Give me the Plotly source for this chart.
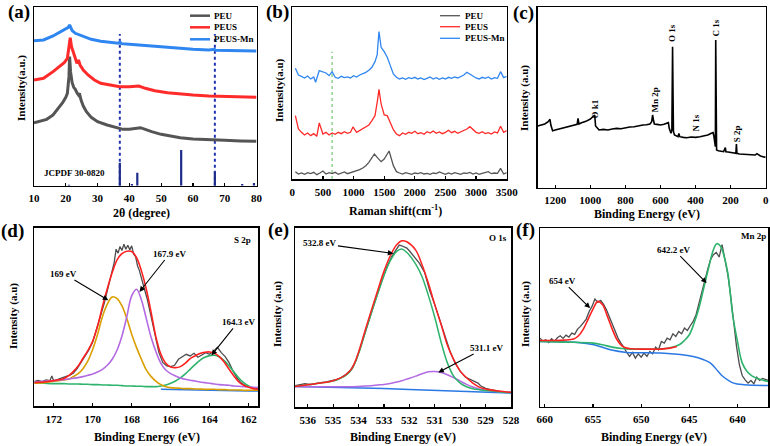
import plotly.graph_objects as go

SERIF = "Liberation Serif"
W, H = 770, 446

# ---------------- (a) XRD ----------------
xrd_peu_x = [10, 12, 14, 16, 18, 19, 20, 20.5, 21, 21.2, 21.5, 22, 22.5, 23, 23.5, 24, 24.3, 24.8, 25.5, 26.5, 28, 30, 33, 36, 38, 40, 42, 43.5, 45, 47, 50, 53, 56, 60, 65, 70, 75, 80]
xrd_peu_y = [189, 193, 199, 212, 235, 249, 265, 277, 327, 387, 342, 309, 295, 289, 279, 272, 277, 257, 239, 222, 205, 192, 182, 174, 169, 169, 172, 174, 169, 162, 154, 149, 144, 140, 137, 136, 134, 133]
xrd_peus_x = [10, 13, 16, 18, 19.5, 20.5, 21, 21.4, 21.8, 22.3, 23, 23.5, 24, 24.5, 25.5, 27, 29, 31, 34, 37, 40, 43, 45, 48, 52, 56, 60, 65, 70, 75, 80]
xrd_peus_y = [317, 322, 342, 357, 369, 382, 427, 444, 417, 399, 382, 367, 377, 362, 347, 332, 317, 307, 301, 297, 297, 299, 292, 285, 279, 275, 272, 269, 267, 266, 265]
xrd_mn_x = [10, 13, 16, 18, 20, 20.8, 21.2, 21.6, 22, 23, 25, 28, 31, 34, 36.5, 37, 37.5, 40, 45, 50, 55, 60, 65, 66.8, 67.2, 70, 75, 80]
xrd_mn_y = [435, 437, 449, 459, 469, 475, 482, 470, 465, 457, 449, 439, 433, 429, 427, 431, 426, 424, 420, 416, 412, 409, 407, 409, 406, 406, 405, 404]
jcpdf_pos = [21.0, 37.0, 40.8, 42.5, 56.3, 66.9, 75.5, 79.2]
jcpdf_int = [3, 69, 5, 39, 107, 42, 5, 8]
xrd_marks = [37.0, 66.9]
xrd_ticks = [10, 20, 30, 40, 50, 60, 70, 80]

# ---------------- (b) Raman ----------------
ram_peu_x = [50, 100, 150, 200, 250, 300, 350, 400, 450, 500, 550, 600, 650, 700, 750, 800, 850, 900, 950, 1000, 1050, 1100, 1150, 1200, 1250, 1300, 1340, 1400, 1450, 1500, 1550, 1580, 1650, 1700, 1750, 1800, 1850, 1900, 1950, 2000, 2050, 2100, 2150, 2200, 2250, 2300, 2350, 2400, 2450, 2500, 2550, 2600, 2650, 2700, 2750, 2800, 2850, 2900, 2950, 3000, 3050, 3100, 3150, 3200, 3250, 3300, 3350, 3400, 3450, 3500]
ram_peu_y = [22, 15, 18, 14, 19, 16, 20, 13, 18, 24, 15, 19, 16, 20, 14, 18, 21, 16, 19, 20, 24, 28, 33, 40, 50, 64, 75, 62, 52, 60, 76, 84, 40, 22, 18, 15, 19, 16, 14, 18, 16, 19, 15, 17, 14, 18, 16, 21, 17, 14, 18, 15, 19, 16, 14, 18, 17, 20, 15, 18, 14, 17, 20, 22, 16, 18, 17, 32, 15, 19]
ram_peus_x = [50, 100, 150, 200, 250, 300, 350, 400, 440, 500, 550, 600, 650, 700, 750, 800, 850, 900, 950, 990, 1050, 1100, 1150, 1200, 1250, 1300, 1350, 1390, 1415, 1450, 1500, 1550, 1600, 1650, 1700, 1750, 1800, 1850, 1900, 1950, 2000, 2050, 2100, 2150, 2200, 2250, 2300, 2350, 2400, 2450, 2500, 2550, 2600, 2650, 2700, 2750, 2800, 2850, 2900, 2950, 3000, 3050, 3100, 3150, 3200, 3250, 3300, 3350, 3400, 3450, 3500]
ram_peus_y = [190, 150, 140, 132, 138, 130, 136, 128, 168, 135, 140, 132, 138, 134, 140, 136, 142, 137, 140, 156, 140, 145, 150, 155, 162, 175, 190, 235, 269, 225, 192, 190, 170, 148, 135, 130, 138, 134, 140, 137, 143, 136, 139, 134, 142, 138, 144, 137, 141, 136, 140, 146, 139, 143, 137, 141, 145, 150, 157, 148, 140, 137, 142, 136, 139, 135, 141, 138, 158, 140, 145]
ram_mn_x = [50, 100, 150, 200, 250, 300, 350, 380, 440, 500, 550, 600, 650, 700, 750, 800, 850, 900, 950, 1000, 1050, 1100, 1150, 1200, 1250, 1300, 1350, 1385, 1415, 1450, 1500, 1550, 1600, 1650, 1700, 1750, 1800, 1850, 1900, 1950, 2000, 2050, 2100, 2150, 2200, 2250, 2300, 2350, 2400, 2450, 2500, 2550, 2600, 2650, 2700, 2750, 2800, 2850, 2900, 2950, 3000, 3050, 3100, 3150, 3200, 3250, 3300, 3350, 3400, 3450, 3500]
ram_mn_y = [332, 312, 308, 303, 309, 300, 306, 290, 325, 320, 318, 310, 322, 305, 302, 308, 304, 306, 303, 310, 306, 312, 315, 320, 326, 335, 352, 372, 442, 395, 382, 365, 340, 315, 305, 300, 303, 299, 304, 301, 305, 300, 303, 298, 302, 306, 300, 304, 299, 303, 300, 305, 302, 306, 303, 308, 312, 320, 314, 307, 303, 300, 305, 302, 306, 300, 304, 302, 322, 304, 308]
raman_mark = 650
raman_ticks = [0, 500, 1000, 1500, 2000, 2500, 3000, 3500]

# ---------------- (c) XPS survey ----------------
surv_x = [1300, 1280, 1260, 1240, 1230, 1225, 1215, 1200, 1175, 1150, 1125, 1100, 1075, 1070, 1065, 1050, 1025, 1000, 990, 980, 975, 970, 960, 950, 925, 900, 875, 850, 825, 800, 775, 750, 725, 700, 680, 660, 650, 645, 640, 635, 620, 600, 580, 560, 555, 550, 540, 535, 531, 528, 526, 520, 510, 500, 495, 490, 470, 450, 425, 400, 375, 350, 330, 310, 300, 295, 290, 287, 285, 283, 280, 270, 255, 240, 230, 227, 215, 200, 185, 170, 167, 164, 150, 125, 100, 80, 60, 50, 40, 30, 15, 0]
surv_y = [185, 188, 191, 198, 205, 188, 171, 173, 176, 179, 182, 185, 190, 208, 191, 195, 199, 206, 211, 215, 218, 185, 178, 173, 175, 173, 176, 178, 177, 180, 182, 183, 186, 188, 189, 191, 198, 218, 203, 191, 190, 188, 190, 193, 195, 178, 163, 173, 423, 263, 168, 158, 155, 153, 163, 153, 151, 150, 152, 151, 153, 155, 158, 163, 165, 153, 133, 123, 443, 143, 113, 111, 110, 108, 120, 108, 107, 105, 104, 103, 131, 103, 101, 100, 100, 99, 98, 102, 97, 95, 93, 91]
surv_labels = ["O k1", "Mn 2p", "O 1s", "N 1s", "C 1s", "S 2p"]
surv_label_x = [971, 629, 530, 396, 282, 162]
surv_label_y = [236, 263, 463, 193, 478, 161]
surv_ticks = [0, 200, 400, 600, 800, 1000, 1200]

# ---------------- (d) S 2p ----------------
s_data_x = [173.0, 172.8, 172.6, 172.4, 172.2, 172.1, 172.0, 171.8, 171.6, 171.4, 171.2, 171.0, 170.8, 170.6, 170.4, 170.2, 170.0, 169.8, 169.6, 169.4, 169.2, 169.0, 168.9, 168.8, 168.7, 168.6, 168.5, 168.4, 168.3, 168.2, 168.1, 168.0, 167.9, 167.8, 167.7, 167.6, 167.5, 167.4, 167.2, 167.0, 166.8, 166.6, 166.4, 166.2, 166.0, 165.8, 165.6, 165.4, 165.2, 165.0, 164.8, 164.6, 164.4, 164.2, 164.0, 163.8, 163.6, 163.4, 163.2, 163.0, 162.8, 162.6, 162.4, 162.2, 162.0, 161.8, 161.6, 161.5]
s_data_y = [74, 77, 73, 78, 76, 90, 75, 80, 84, 88, 92, 98, 112, 130, 150, 168, 192, 228, 270, 310, 360, 405, 430, 470, 458, 478, 466, 485, 470, 482, 468, 480, 455, 448, 420, 405, 380, 362, 320, 268, 210, 160, 130, 120, 118, 122, 140, 148, 155, 150, 158, 146, 152, 160, 155, 164, 176, 160, 148, 130, 105, 85, 70, 62, 58, 54, 52, 52]
s_fit_x = [173, 172.5, 172, 171.5, 171.25, 171, 170.75, 170.5, 170.25, 170, 169.75, 169.5, 169.25, 169, 168.75, 168.5, 168.25, 168, 167.75, 167.5, 167.25, 167, 166.75, 166.5, 166.25, 166, 165.75, 165.5, 165.25, 165, 164.75, 164.5, 164.25, 164, 163.75, 163.5, 163.25, 163, 162.75, 162.5, 162.25, 162, 161.75, 161.5]
s_fit_y = [70, 72, 76, 82, 90, 103, 120, 143, 166, 195, 240, 298, 352, 400, 438, 457, 464, 463, 445, 405, 350, 280, 205, 155, 128, 117, 115, 118, 128, 142, 150, 157, 161, 162, 158, 148, 132, 110, 90, 72, 62, 56, 52, 50]
s_169_y = [68, 70, 74, 78, 80, 88, 97, 112, 135, 170, 215, 268, 305, 327, 322, 300, 262, 215, 175, 140, 108, 88, 74, 64, 58, 55, 54, 53, 52, 52, 51, 51, 50, 50, 50, 49, 49, 48, 48, 48, 47, 47, 47, 47]
s_1679_y = [72, 74, 76, 79, 81, 83, 85, 88, 92, 96, 102, 110, 122, 140, 168, 210, 268, 330, 350, 318, 262, 205, 162, 128, 108, 97, 90, 84, 80, 77, 75, 72, 70, 68, 66, 64, 63, 62, 60, 59, 58, 57, 56, 55]
s_1643_y = [69, 68, 67, 67, 66, 66, 66, 65, 65, 64, 64, 63, 63, 62, 62, 61, 60, 60, 59, 59, 58, 58, 58, 60, 63, 68, 75, 84, 96, 110, 124, 137, 146, 151, 152, 147, 136, 120, 102, 84, 70, 60, 53, 50]
s_bg_x = [166.5, 165, 164, 163, 162, 161.5]
s_bg_y = [50, 48, 46, 45, 45, 45]
s_ticks = [162, 164, 166, 168, 170, 172]

# ---------------- (e) O 1s ----------------
o_data_x = [536.5, 536.3, 536.1, 535.9, 535.7, 535.5, 535.3, 535.1, 534.9, 534.7, 534.5, 534.3, 534.1, 533.9, 533.7, 533.5, 533.3, 533.1, 532.9, 532.7, 532.5, 532.4, 532.3, 532.2, 532.1, 532.0, 531.8, 531.7, 531.6, 531.4, 531.2, 531.0, 530.8, 530.6, 530.4, 530.2, 530.0, 529.8, 529.6, 529.4, 529.3, 529.2, 529.0, 528.8, 528.6, 528.4, 528.2, 528.0]
o_data_y = [64, 66, 70, 67, 71, 73, 75, 78, 82, 88, 98, 112, 140, 185, 235, 285, 330, 375, 418, 452, 478, 487, 485, 482, 478, 470, 452, 440, 432, 405, 350, 308, 262, 212, 168, 132, 108, 90, 82, 75, 72, 64, 56, 52, 48, 46, 44, 44]
o_fit_x = [536.5, 536, 535.5, 535, 534.75, 534.5, 534.25, 534, 533.75, 533.5, 533.25, 533, 532.75, 532.5, 532.3, 532.1, 531.75, 531.5, 531.25, 531, 530.75, 530.5, 530.25, 530, 529.75, 529.5, 529.25, 529, 528.5, 528]
o_fit_y = [62, 67, 72, 79, 86, 97, 118, 165, 228, 290, 350, 408, 455, 488, 500, 497, 472, 428, 372, 308, 248, 185, 142, 108, 88, 72, 60, 54, 48, 44]
o_5328_y = [62, 67, 72, 78, 85, 95, 115, 160, 222, 282, 340, 395, 440, 468, 475, 465, 430, 392, 335, 270, 195, 132, 92, 72, 61, 55, 52, 50, 46, 43]
o_5311_y = [62, 61, 61, 61, 61, 61, 61, 62, 63, 64, 66, 68, 71, 75, 79, 84, 93, 100, 106, 107, 104, 97, 88, 78, 68, 60, 54, 50, 46, 44]
o_bg_x = [536.5, 535, 534, 533, 532, 531, 530, 529, 528]
o_bg_y = [62, 60, 58, 56, 53, 50, 47, 44, 42]
o_ticks = [528, 529, 530, 531, 532, 533, 534, 535, 536]

# ---------------- (f) Mn 2p ----------------
mn_data_x = [660.5, 660.2, 659.9, 659.6, 659.3, 659.0, 658.7, 658.4, 658.1, 657.8, 657.5, 657.2, 656.9, 656.6, 656.3, 656.0, 655.7, 655.4, 655.1, 654.8, 654.5, 654.2, 653.9, 653.6, 653.3, 653.0, 652.7, 652.4, 652.1, 651.8, 651.5, 651.2, 650.9, 650.6, 650.3, 650.0, 649.7, 649.4, 649.1, 648.8, 648.5, 648.2, 647.9, 647.6, 647.3, 647.0, 646.7, 646.4, 646.1, 645.8, 645.5, 645.2, 644.9, 644.6, 644.3, 644.0, 643.7, 643.4, 643.1, 642.8, 642.5, 642.2, 641.9, 641.6, 641.3, 641.0, 640.7, 640.4, 640.1, 639.8, 639.5, 639.2, 638.9, 638.6, 638.3, 638.0, 637.7, 637.4, 637.1, 636.8]
mn_data_y = [205, 196, 200, 192, 203, 195, 206, 212, 204, 214, 208, 220, 216, 232, 240, 252, 262, 285, 300, 322, 312, 318, 306, 290, 268, 245, 222, 205, 190, 178, 162, 150, 162, 145, 158, 148, 160, 150, 165, 158, 178, 170, 195, 190, 205, 200, 218, 210, 225, 218, 235, 228, 242, 255, 275, 310, 345, 380, 410, 440, 455, 462, 448, 485, 440, 395, 330, 250, 180, 125, 92, 80, 70, 78, 68, 88, 78, 84, 80, 78]
mn_654_x = [660.5, 659, 658, 657, 656.5, 656, 655.5, 655, 654.5, 654, 653.5, 653, 652.5, 652, 651.5, 651, 650, 649, 648, 647, 646.3]
mn_654_y = [198, 198, 199, 202, 212, 232, 262, 292, 315, 305, 270, 232, 200, 182, 175, 173, 172, 172, 172, 175, 180]
mn_642_x = [660.5, 658, 655, 654, 653, 652, 651, 650, 648, 647, 646, 645.5, 645, 644.5, 644, 643.5, 643, 642.5, 642.15, 641.75, 641.5, 641, 640.75, 640.5, 640, 639.5, 639, 638.5, 638, 637.5, 636.8]
mn_642_y = [195, 193, 190, 185, 178, 174, 172, 172, 172, 176, 186, 198, 215, 250, 295, 355, 415, 470, 488, 480, 462, 400, 340, 275, 195, 130, 105, 92, 85, 80, 75]
mn_bg_x = [660.5, 656.6, 654.9, 653.2, 651.5, 648.0, 644.6, 643.5, 642.8, 642.0, 641.5, 640.4, 639.3, 636.8]
mn_bg_y = [195, 192, 185, 170, 162, 160, 150, 140, 130, 105, 90, 70, 65, 63]
mn_ticks = [640, 645, 650, 655, 660]

# ---------------- styles ----------------
C_PEU, C_PEUS, C_MN = "#555555", "#ff2a2a", "#2f86f0"
C_DATA = "#4d4d4d"
C_RED, C_ORANGE, C_PURPLE, C_GREEN, C_BLUE = "#ff2020", "#d9a000", "#b36ae2", "#2db36b", "#2a78e4"
C_STICK = "#1e2c8c"


def px_x(p):
    return p / W


def px_y(p):
    return 1 - p / H


fig = go.Figure()


def line(x, y, color, width, ax, name=None, dash=None, shape="linear"):
    fig.add_trace(go.Scatter(x=x, y=y, mode="lines", name=name, showlegend=False,
                             line=dict(color=color, width=width, dash=dash, shape=shape),
                             xaxis="x" + ax, yaxis="y" + ax, hoverinfo="skip"))


# (a)
for xm in xrd_marks:
    line([xm, xm], [0, 455], "#2233b0", 2, "", dash="dot")
sx, sy = [], []
for p, h in zip(jcpdf_pos, jcpdf_int):
    sx += [p, p, None]
    sy += [0, h, None]
line(sx, sy, C_STICK, 2.2, "")
line(xrd_peu_x, xrd_peu_y, C_PEU, 3, "", "PEU")
line(xrd_peus_x, xrd_peus_y, C_PEUS, 3, "", "PEUS")
line(xrd_mn_x, xrd_mn_y, C_MN, 3, "", "PEUS-Mn")

# (b)
line([raman_mark, raman_mark], [0, 382], "#8fd18f", 1.5, "2", dash="dot")
line(ram_peu_x, ram_peu_y, C_PEU, 1.3, "2", "PEU")
line(ram_peus_x, ram_peus_y, C_PEUS, 1.3, "2", "PEUS")
line(ram_mn_x, ram_mn_y, C_MN, 1.3, "2", "PEUS-Mn")

# (c)
line(surv_x, surv_y, "#000000", 1.6, "3")

# (d)
line(s_data_x, s_data_y, C_DATA, 1.3, "4")
line(s_bg_x, s_bg_y, C_BLUE, 1.5, "4")
line(s_fit_x, s_1643_y, C_GREEN, 1.6, "4", shape="spline")
line(s_fit_x, s_169_y, C_ORANGE, 1.6, "4", shape="spline")
line(s_fit_x, s_1679_y, C_PURPLE, 1.6, "4", shape="spline")
line(s_fit_x, s_fit_y, C_RED, 1.6, "4", shape="spline")

# (e)
line(o_data_x, o_data_y, C_DATA, 1.3, "5")
line(o_bg_x, o_bg_y, C_BLUE, 1.5, "5")
line(o_fit_x, o_5311_y, C_PURPLE, 1.5, "5", shape="spline")
line(o_fit_x, o_5328_y, C_GREEN, 1.5, "5", shape="spline")
line(o_fit_x, o_fit_y, C_RED, 1.5, "5", shape="spline")

# (f)
line(mn_data_x, mn_data_y, C_DATA, 1.3, "6")
line(mn_bg_x, mn_bg_y, C_BLUE, 1.5, "6", shape="spline")
line(mn_642_x, mn_642_y, C_GREEN, 1.6, "6", shape="spline")
line(mn_654_x, mn_654_y, C_RED, 1.6, "6", shape="spline")

tickfont = dict(family=SERIF, size=11, color="black", weight="bold")


def xax(dom, rng, ticks, anchor):
    return dict(domain=dom, range=rng, tickvals=ticks, showline=True, mirror=True, linecolor="black",
                linewidth=1.5, ticks="inside", ticklen=3, tickwidth=1.2, tickcolor="black",
                showgrid=False, zeroline=False, tickfont=tickfont, anchor=anchor, fixedrange=True,
                ticklabelstandoff=2, automargin=False)


def yax(dom, top, anchor):
    return dict(domain=dom, range=[0, top], showline=True, mirror=True, linecolor="black",
                linewidth=1.5, ticks="", showticklabels=False, showgrid=False, zeroline=False,
                anchor=anchor, fixedrange=True, automargin=False)


boxes = {
    "": ([34, 256.5], [7.3, 185.7], [10, 80], xrd_ticks, 535),
    "2": ([292.3, 506.7], [7.3, 179], [0, 3500], raman_ticks, 515),
    "3": ([537.7, 765.7], [7.3, 187.7], [1300, 0], surv_ticks, 541),
    "4": ([34.3, 258.3], [227.5, 406], [173, 161.5], s_ticks, 535),
    "5": ([295, 511], [227.5, 407], [536.5, 528], o_ticks, 540),
    "6": ([540, 768.3], [228, 406.5], [660.5, 636.8], mn_ticks, 535),
}
layout = {}
for k, (bx, by, xr, tv, top) in boxes.items():
    xd = [px_x(bx[0]), px_x(bx[1])]
    yd = [px_y(by[1]), px_y(by[0])]
    layout["xaxis" + k] = xax(xd, xr, tv, "y" + k)
    layout["yaxis" + k] = yax(yd, top, "x" + k)

fig.update_layout(width=W, height=H, margin=dict(l=0, r=0, t=0, b=0, pad=0), plot_bgcolor="white",
                  paper_bgcolor="white", showlegend=False, **layout)

ann = []
tfont = dict(family=SERIF, size=12, color="black", weight="bold")
yfont = dict(family=SERIF, size=11, color="black", weight="bold")
lfont = dict(family=SERIF, size=19, color="black", weight="bold")
sfont = dict(family=SERIF, size=9, color="black", weight="bold")


def pann(text, x, y, font, angle=0, xanchor="center"):
    ann.append(dict(text=text, x=px_x(x), y=px_y(y), xref="paper", yref="paper", showarrow=False,
                    font=font, textangle=angle, xanchor=xanchor, yanchor="middle"))


# panel labels
for t, x, y in [("(a)", 19, 12), ("(b)", 277, 12), ("(c)", 523, 13), ("(d)", 12, 231), ("(e)", 278, 230), ("(f)", 525, 230)]:
    pann(t, x, y, lfont)
# x titles
pann("2θ (degree)", 141, 213, tfont)
pann("Raman shift(cm<sup>-1</sup>)", 396, 211, tfont)
pann("Binding Energy (eV)", 647, 214, tfont)
pann("Binding Energy (eV)", 147, 437, tfont)
pann("Binding Energy (eV)", 403, 437, tfont)
pann("Binding Energy (eV)", 654, 437, tfont)
# y titles
pann("Intensity(a.u.)", 21, 88, yfont, -90)
pann("Intensity(a.u)", 279, 90, yfont, -90)
pann("Intensity (a.u)", 525, 98, yfont, -90)
pann("Intensity (a.u)", 13, 316, yfont, -90)
pann("Intensity (a.u)", 277, 314, yfont, -90)
pann("Intensity (a.u)", 525, 314, yfont, -90)

# manual legends for (a) and (b)
shapes = []
for names, colors, x0, x1, xt, ys, w in [
    (["PEU", "PEUS", "PEUS-Mn"], [C_PEU, C_PEUS, C_MN], 190, 210, 212, [15.7, 27.3, 39.3], 2.5),
    (["PEU", "PEUS", "PEUS-Mn"], [C_PEU, C_PEUS, C_MN], 440, 460, 463, [15.7, 26.7, 38.3], 1.3),
]:
    for n, c, yy in zip(names, colors, ys):
        shapes.append(dict(type="line", xref="paper", yref="paper", x0=px_x(x0), x1=px_x(x1),
                           y0=px_y(yy), y1=px_y(yy), line=dict(color=c, width=w)))
        pann(n, xt, yy, sfont, xanchor="left")

# in-plot text
ann.append(dict(text="JCPDF 30-0820", x=12.4, y=37, xref="x", yref="y", showarrow=False,
                font=sfont, xanchor="left"))
for t, x, y in zip(surv_labels, surv_label_x, surv_label_y):
    ann.append(dict(text=t, x=x, y=y, xref="x3", yref="y3", showarrow=False, font=sfont, textangle=-90))
for t, x, y, k in [("S 2p", 162.3, 499, "4"), ("O 1s", 528.5, 507, "5"), ("Mn 2p", 638.3, 510, "6")]:
    ann.append(dict(text=t, x=x, y=y, xref="x" + k, yref="y" + k, showarrow=False, font=sfont))

# arrows: (text, tip x, tip y, text x, text y, axis)
for t, x, y, tx, ty, k in [
    ("169 eV", 169.2, 317, 171.5, 397, "4"),
    ("167.9 eV", 167.6, 342, 166.04, 457, "4"),
    ("164.3 eV", 163.9, 152, 162.53, 252, "4"),
    ("532.8 eV", 532.63, 462, 535.52, 492, "5"),
    ("531.1 eV", 530.86, 104, 528.98, 179, "5"),
    ("654 eV", 655.3, 295, 658.2, 377, "6"),
    ("642.2 eV", 643.2, 370, 646.6, 470, "6"),
]:
    ann.append(dict(text=t, x=x, y=y, ax=tx, ay=ty, xref="x" + k, yref="y" + k, axref="x" + k,
                    ayref="y" + k, showarrow=True, arrowhead=2, arrowsize=1, arrowwidth=1.1,
                    arrowcolor="black", font=sfont, standoff=0))

fig.update_layout(annotations=ann, shapes=shapes)
fig.write_html("out.html", config={"displayModeBar": False, "staticPlot": True},
               post_script="document.body.style.margin='0';document.body.style.padding='0';")
